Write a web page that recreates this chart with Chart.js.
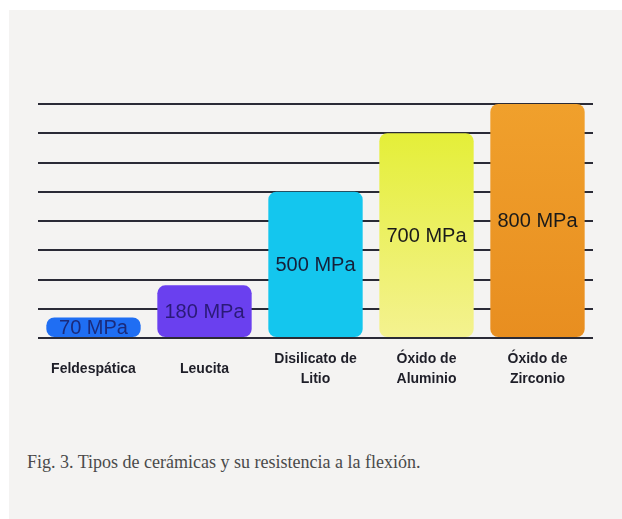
<!DOCTYPE html>
<html lang="es">
<head>
  <meta charset="UTF-8" />
  <title>Tipos de cerámicas</title>
  <script src="https://cdn.jsdelivr.net/npm/chart.js"></script>
  <style>
    html, body {
      margin: 0;
      background: #ffffff;
      width: 622px;
      height: 519px;
      overflow: hidden;
    }

    body {
      position: relative;
    }

    .panel {
      position: absolute;
      left: 9px;
      top: 10px;
      right: 0;
      bottom: 0;
      background: #f4f3f2;
    }

    #chartWrap {
      position: absolute;
      left: 0;
      top: 0;
      width: 622px;
      height: 420px;
    }

    .caption {
      position: absolute;
      left: 27px;
      top: 452px;
      font-family: 'Liberation Serif', serif;
      font-size: 18px;
      color: #4a4a4a;
      white-space: nowrap;
    }
  </style>
</head>
<body>
  <div class="panel"></div>
  <div id="chartWrap"><canvas id="ceramicChart" width="622" height="420"></canvas></div>
  <div class="caption">Fig. 3. Tipos de cerámicas y su resistencia a la flexión.</div>

  <script>
    const categories = [
      'Feldespática',
      'Leucita',
      ['Disilicato de', 'Litio'],
      ['Óxido de', 'Aluminio'],
      ['Óxido de', 'Zirconio']
    ];
    const strengthMPa = [70, 180, 500, 700, 800];
    const yTicks = [0, 100, 200, 300, 400, 500, 600, 700, 800];

    const flatColors = ['#1f6ef3', '#6a40ef', '#14c6ee', null, null];
    const labelColors = ['#1b2a7a', '#2b1a78', '#15203a', '#1a1a1a', '#1a1a1a'];

    function barColor(ctx) {
      const i = ctx.dataIndex;
      if (flatColors[i]) return flatColors[i];
      const area = ctx.chart.chartArea;
      if (!area) return '#e6ee40';
      const g = ctx.chart.ctx.createLinearGradient(0, area.top, 0, area.bottom);
      if (i === 3) {
        g.addColorStop(0, '#e2ee2c');
        g.addColorStop(1, '#f4f290');
      } else {
        g.addColorStop(0, '#f0a02c');
        g.addColorStop(1, '#e88e20');
      }
      return g;
    }

    // values written in the middle of each bar
    const barLabels = {
      id: 'barLabels',
      afterDatasetsDraw(chart) {
        const c = chart.ctx;
        const meta = chart.getDatasetMeta(0);
        c.save();
        c.font = '20px "Liberation Sans", Arial, sans-serif';
        c.textAlign = 'center';
        c.textBaseline = 'middle';
        meta.data.forEach((bar, i) => {
          c.fillStyle = labelColors[i];
          c.fillText(strengthMPa[i] + ' MPa', bar.x, (bar.y + bar.base) / 2 + 1);
        });
        c.restore();
      }
    };

    new Chart(document.getElementById('ceramicChart'), {
      type: 'bar',
      data: {
        labels: categories,
        datasets: [{
          data: strengthMPa,
          backgroundColor: barColor,
          borderRadius: 8,
          borderSkipped: false,
          barPercentage: 0.85,
          categoryPercentage: 1
        }]
      },
      options: {
        responsive: false,
        animation: false,
        layout: {
          padding: { left: 38, right: 29, top: 104, bottom: 22 }
        },
        plugins: {
          legend: { display: false },
          tooltip: { enabled: false }
        },
        scales: {
          x: {
            grid: { display: false, drawTicks: false },
            border: { display: false },
            afterFit: s => { s.height = 60; },
            ticks: {
              padding: 21,
              crossAlign: 'center',
              color: '#1e1e28',
              font: { family: '"Liberation Sans", Arial, sans-serif', size: 14, weight: 'bold', lineHeight: 1.43 }
            }
          },
          y: {
            min: 0,
            max: 800,
            afterBuildTicks: s => { s.ticks = yTicks.map(v => ({ value: v })); },
            afterFit: s => { s.width = 0; },
            grid: { color: '#2a2a36', lineWidth: 2, drawTicks: false },
            border: { display: false },
            ticks: { display: false }
          }
        }
      },
      plugins: [barLabels]
    });
  </script>
</body>
</html>
